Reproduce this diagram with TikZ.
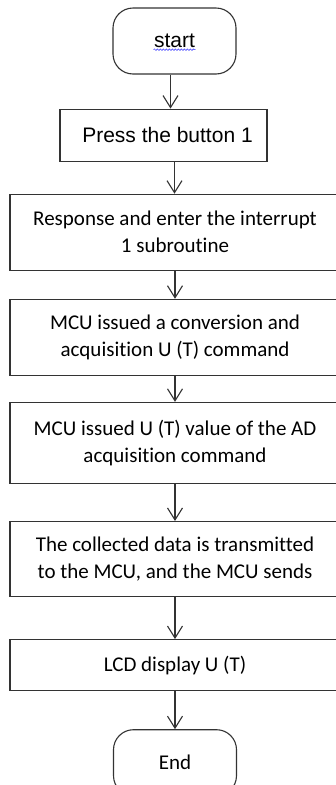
\documentclass[tikz,border=0pt]{standalone}
\usepackage{fontspec}
\setmainfont[Ligatures=NoCommon]{Carlito}
\newfontfamily\arialfont{Liberation Sans}
\usetikzlibrary{arrows.meta,positioning,decorations.pathmorphing}
\tikzset{
    terminal/.style={
        draw=black!80,
        line width=1.1pt,
        rectangle,
        rounded corners=20pt,
        minimum width=123pt,
        minimum height=66pt,
        inner sep=0pt
    },
    process/.style={
        draw=black!80,
        line width=1.1pt,
        rectangle,
        align=center,
        minimum width=330pt,
        inner sep=0pt,
        font=\fontsize{21}{27}\selectfont
    },
    arialtext/.style={
        font=\arialfont\fontsize{21}{27}\selectfont
    },
    arrow/.style={
        -{Straight Barb[length=12pt,width=15pt]},
        line width=1.1pt,
        color=black!80
    },
    spellmark/.style={
        decorate,
        decoration={snake, amplitude=0.8pt, segment length=3pt},
        color=blue!70,
        line width=0.6pt
    }
}

\begin{document}
\begin{tikzpicture}[x=1pt,y=1pt]
    \useasboundingbox (0,0) rectangle (336,-785);

    % Start
    \node[terminal, arialtext] (start) at (174.5,-41) {\raisebox{-4pt}{start}};
    \draw[spellmark] ([xshift=-21pt,yshift=-6pt]start.base) -- ([xshift=21pt,yshift=-6pt]start.base);

    % Steps
    \node[process, arialtext, minimum width=207pt, minimum height=52pt,
        below=34pt of start, xshift=-11pt] (press) {\hspace{8pt}Press the button 1};
    \node[process, minimum height=76pt, below=32pt of press, xshift=11.5pt]
        (isr) {Response and enter the interrupt\\1 subroutine};
    \node[process, minimum height=76pt, below=28pt of isr]
        (convert) {MCU issued a conversion and\\acquisition U (T) command};
    \node[process, minimum height=81pt, below=26pt of convert]
        (adcmd) {MCU issued U (T) value of the AD\\acquisition command};
    \node[process, minimum height=75pt, below=37pt of adcmd]
        (send) {The collected data is transmitted\\to the MCU, and the MCU sends};
    \node[process, minimum height=51pt, below=42pt of send]
        (lcd) {LCD display U (T)};

    % End
    \node[terminal, font=\fontsize{21}{27}\selectfont, below=38pt of lcd] (end) {End};

    % Arrows
    \draw[arrow] ([xshift=-4pt]start.south) -- ([xshift=-4pt]start.south |- press.north);
    \draw[arrow] (press.south -| start) -- (start |- isr.north);
    \draw[arrow] (isr) -- (convert);
    \draw[arrow] (convert) -- (adcmd);
    \draw[arrow] (adcmd) -- (send);
    \draw[arrow] (send) -- (lcd);
    \draw[arrow] (lcd) -- (end);
\end{tikzpicture}
\end{document}
